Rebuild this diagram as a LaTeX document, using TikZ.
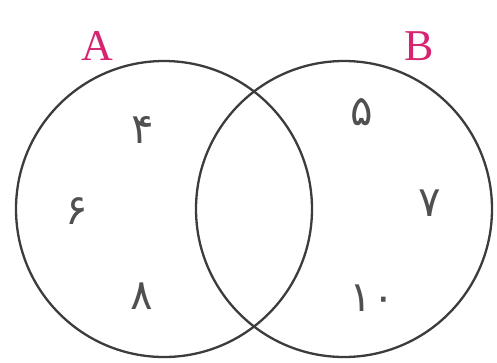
\documentclass[tikz,border=0pt]{standalone}
\usepackage{fontspec}
\setmainfont{Liberation Serif}
\newfontfamily\arabicfont[Script=Arabic]{DejaVu Sans}
\definecolor{setlabel}{RGB}{214,36,112}
\definecolor{ring}{RGB}{60,60,60}
\definecolor{digit}{RGB}{80,80,80}
\begin{document}
\begin{tikzpicture}[x=1pt,y=-1pt,
  ringstyle/.style={draw=ring,line width=2.3pt},
  setname/.style={text=setlabel,font=\fontsize{44}{44}\selectfont,inner sep=0pt},
  elem/.style={text=digit,font=\arabicfont\fontsize{42}{42}\selectfont,inner sep=0pt}]
\useasboundingbox (0,0) rectangle (497,362);
\draw[ringstyle] (164,209) circle (148);
\draw[ringstyle] (344,209) circle (148);
\node[setname] (A) at (97,46) {A};
\node[setname] (B) at (419,46) {B};
\node[elem] (n4) at (143,130) {۴};
\node[elem] (n6) at (77,211) {۶};
\node[elem] (n8) at (142,296) {۸};
\node[elem] (n5) at (362,112) {۵};
\node[elem] (n7) at (430,203) {۷};
\node[elem] (n10) at (372,298) {۱۰};
\end{tikzpicture}
\end{document}
